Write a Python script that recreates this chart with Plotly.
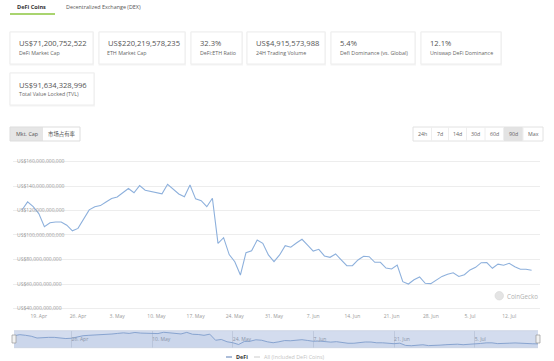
import plotly.graph_objects as go
import pandas as pd
from datetime import timedelta

W, H = 554, 361

# ---------------- data ----------------
dates = pd.date_range("2021-04-16", periods=92, freq="D")
defi_cap_bn = [
    120.4, 127.0, 123.1, 117.5, 106.8, 110.0, 110.6, 110.6, 108.0, 103.4,
    105.4, 113.0, 120.5, 123.0, 124.0, 127.0, 129.8, 131.0, 134.5, 138.0,
    134.5, 140.3, 136.5, 135.7, 134.8, 133.6, 141.4, 137.5, 133.5, 131.3,
    140.8, 129.5, 128.0, 123.1, 130.0, 93.2, 97.8, 84.0, 78.2, 67.3,
    85.6, 87.2, 95.9, 93.2, 83.7, 78.2, 83.7, 91.3, 90.0, 93.5,
    96.5, 91.8, 86.9, 88.3, 82.9, 81.8, 84.5, 79.6, 74.9, 74.9,
    79.6, 82.6, 82.3, 77.7, 77.7, 73.0, 72.3, 75.5, 61.9, 60.0,
    63.5, 65.8, 60.6, 60.3, 63.5, 66.2, 68.0, 69.2, 66.2, 67.6,
    71.5, 73.6, 77.4, 77.5, 72.8, 76.2, 75.3, 76.9, 74.1, 72.0,
    72.0, 71.2,
]
defi_cap = [v * 1e9 for v in defi_cap_bn]

y_ticks_bn = [40, 60, 80, 100, 120, 140, 160]
y_tick_text = ["US$40,000,000,000", "US$60,000,000,000", "US$80,000,000,000",
               "US$100,000,000,000", "US$120,000,000,000",
               "US$140,000,000,000", "US$160,000,000,000"]
main_x_ticks = pd.date_range("2021-04-19", "2021-07-12", freq="7D")
nav_x_ticks = pd.date_range("2021-04-26", "2021-07-05", freq="14D")

tabs = ["DeFi Coins", "Decentralized Exchange (DEX)"]
card_values = ["US$71,200,752,522", "US$220,219,578,235", "32.3%",
               "US$4,915,573,988", "5.4%", "12.1%", "US$91,634,328,996"]
card_labels = ["DeFi Market Cap", "ETH Market Cap", "DeFi:ETH Ratio",
               "24H Trading Volume", "Defi Dominance (vs. Global)",
               "Uniswap DeFi Dominance", "Total Value Locked (TVL)"]
mode_buttons = ["Mkt. Cap", "市场占有率"]
range_buttons = ["24h", "7d", "14d", "30d", "60d", "90d", "Max"]
legend_items = ["DeFi", "All (Included DeFi Coins)"]

FONT = "Open Sans, Noto Sans CJK SC, sans-serif"
LINE = "#8db0dc"


def X(p):
    return p / W


def Y(p):
    return 1 - p / H


shapes = []
ann = []


def rect(x0, y0, x1, y1, fill=None, line=None, lw=1):
    shapes.append(dict(type="rect", xref="paper", yref="paper",
                       x0=X(x0), x1=X(x1), y0=Y(y1), y1=Y(y0),
                       fillcolor=fill or "rgba(0,0,0,0)",
                       line=dict(color=line or "rgba(0,0,0,0)", width=lw if line else 0),
                       layer="below"))


def hline(x0, x1, y, color, lw=1):
    shapes.append(dict(type="line", xref="paper", yref="paper",
                       x0=X(x0), x1=X(x1), y0=Y(y), y1=Y(y),
                       line=dict(color=color, width=lw), layer="above"))


def vline(x, y0, y1, color, lw=1):
    shapes.append(dict(type="line", xref="paper", yref="paper",
                       x0=X(x), x1=X(x), y0=Y(y0), y1=Y(y1),
                       line=dict(color=color, width=lw), layer="above"))


def text(x, y, s, size, color, anchor="left", bold=False):
    ann.append(dict(xref="paper", yref="paper", x=X(x), y=Y(y),
                    text=f"<b>{s}</b>" if bold else s, showarrow=False,
                    xanchor=anchor, yanchor="middle",
                    font=dict(family=FONT, size=size, color=color)))


# ---------------- tabs ----------------
text(31.7, 6.5, tabs[0], 5.6, "#333", "center", bold=True)
text(103, 6.5, tabs[1], 5.4, "#555", "center")
hline(10, 55, 14, "#8dc63f", 1.5)

# ---------------- cards ----------------
cards = [(10, 93, 32, 64), (99, 185, 32, 64), (191, 242, 32, 64),
         (247, 325, 32, 64), (331, 415, 32, 64), (421, 501, 32, 64),
         (10, 94, 73, 105)]
for (x0, x1, y0, y1), v, l in zip(cards, card_values, card_labels):
    rect(x0 - 0.5, y0 - 0.5, x1 + 1, y1 + 1.5, fill="#f4f4f4")
    rect(x0, y0, x1, y1, fill="white", line="#ededed")
    text(x0 + 6.5, y0 + 11.5, v, 7.6, "#555")
    text(x0 + 6.5, y0 + 21.3, l, 5.3, "#666")

# ---------------- buttons ----------------
rect(10, 127, 43, 141, fill="#e6e6e6")
rect(10, 127, 80, 141, line="#dddddd")
text(26.5, 134, mode_buttons[0], 5.4, "#555", "center")
text(61.5, 134, mode_buttons[1], 5.4, "#555", "center")

rb_edges = [413, 431.5, 448.5, 466.5, 485, 503.5, 523, 543]
rect(rb_edges[5], 127, rb_edges[6], 141, fill="#e3e3e3")
rect(413, 127, 543, 141, line="#e2e2e2")
for i, lab in enumerate(range_buttons):
    text((rb_edges[i] + rb_edges[i + 1]) / 2, 134, lab, 5.3, "#666", "center")
    if 0 < i:
        vline(rb_edges[i], 127, 141, "#eeeeee")

# ---------------- main chart axes ----------------
px_per_day = 5.6
x_left_px, x_right_px = 13, 540
first_px = 22
r0 = dates[0] - timedelta(days=(first_px - x_left_px) / px_per_day)
r1 = r0 + timedelta(days=(x_right_px - x_left_px) / px_per_day)
px_per_bn = 1.225
pad_bn = 5
top_px = 161.5 - pad_bn * px_per_bn
bot_px = 308.5 + pad_bn * px_per_bn
xaxis_line_px = 310.6

# ---------------- navigator ----------------
nav_top, nav_bot = 330.7, 347.7
nav_l, nav_r = 14, 538
rect(nav_l, nav_top, nav_r, nav_bot, fill="#d3dcee")
hline(nav_l, nav_r, nav_top, "#c8d0e0", 0.8)
hline(nav_l, nav_r, nav_bot, "#c8d0e0", 0.8)
for hx in (nav_l, nav_r):
    shapes.append(dict(type="rect", xref="paper", yref="paper",
                       x0=X(hx - 2), x1=X(hx + 2), y0=Y(343), y1=Y(335),
                       fillcolor="#f2f2f2", line=dict(color="#999", width=0.7),
                       layer="above"))

# ---------------- watermark ----------------
shapes.append(dict(type="circle", xref="paper", yref="paper",
                   x0=X(495), x1=X(503.5), y0=Y(300), y1=Y(291.5),
                   fillcolor="#e4e4e4", line=dict(color="#d6d6d6", width=0.6),
                   layer="above"))
text(505, 296, "CoinGecko", 6.2, "#b0b0b0")

# ---------------- legend ----------------
hline(226, 232, 357, "#5a7db3", 1)
text(234, 357, legend_items[0], 5.4, "#333", bold=True)
hline(254, 260, 357, "#cccccc", 1)
text(262, 357, legend_items[1], 5.4, "#c4c4c4")

fig = go.Figure()
fig.add_trace(go.Scatter(x=dates, y=defi_cap, mode="lines",
                         line=dict(color=LINE, width=1.1),
                         xaxis="x", yaxis="y", hoverinfo="skip",
                         showlegend=False))
fig.add_trace(go.Scatter(x=dates, y=defi_cap, mode="lines",
                         line=dict(color="#7f9dcc", width=0.9),
                         fill="tozeroy", fillcolor="rgba(120,150,200,0.08)",
                         xaxis="x2", yaxis="y2", hoverinfo="skip",
                         showlegend=False))

fig.update_layout(
    width=W, height=H,
    margin=dict(l=0, r=0, t=0, b=0),
    paper_bgcolor="white", plot_bgcolor="rgba(0,0,0,0)",
    font=dict(family=FONT),
    shapes=shapes, annotations=ann,
    xaxis=dict(domain=[X(x_left_px), X(x_right_px)], type="date",
               anchor="free", position=Y(xaxis_line_px),
               range=[r0, r1], tickvals=list(main_x_ticks),
               ticktext=[d.strftime("%-d. %b") for d in main_x_ticks],
               showgrid=False, zeroline=False,
               showline=False, ticks="", ticklabelstandoff=1,
               ticklabeloverflow="allow",
               tickfont=dict(size=5, color="#999"), fixedrange=True),
    yaxis=dict(domain=[Y(bot_px), Y(top_px)],
               range=[(40 - pad_bn) * 1e9, (160 + pad_bn) * 1e9],
               tickvals=[v * 1e9 for v in y_ticks_bn], ticktext=y_tick_text,
               ticklabelposition="inside", ticklabelstandoff=1,
               ticklabeloverflow="allow",
               showgrid=True, gridcolor="#ededed", gridwidth=1,
               zeroline=False, showline=False, ticks="",
               tickfont=dict(size=5, color="#999"), fixedrange=True),
    xaxis2=dict(domain=[X(nav_l), X(nav_r)], type="date",
                range=[dates[0], dates[-1]], tickvals=list(nav_x_ticks),
                ticktext=[d.strftime("%-d. %b") for d in nav_x_ticks],
                anchor="y2",
                ticklabelposition="inside right", ticks="",
                showgrid=True, gridcolor="#bfc9dd", gridwidth=0.8,
                zeroline=False, showline=False,
                tickfont=dict(size=5, color="#8a94a8"), fixedrange=True),
    yaxis2=dict(domain=[Y(nav_bot), Y(nav_top)], anchor="x2",
                range=[48e9, 151e9], visible=False, fixedrange=True),
)

fig.write_html("out.html", config={"displayModeBar": False},
               post_script="document.body.style.margin='0';document.body.style.padding='0';")
